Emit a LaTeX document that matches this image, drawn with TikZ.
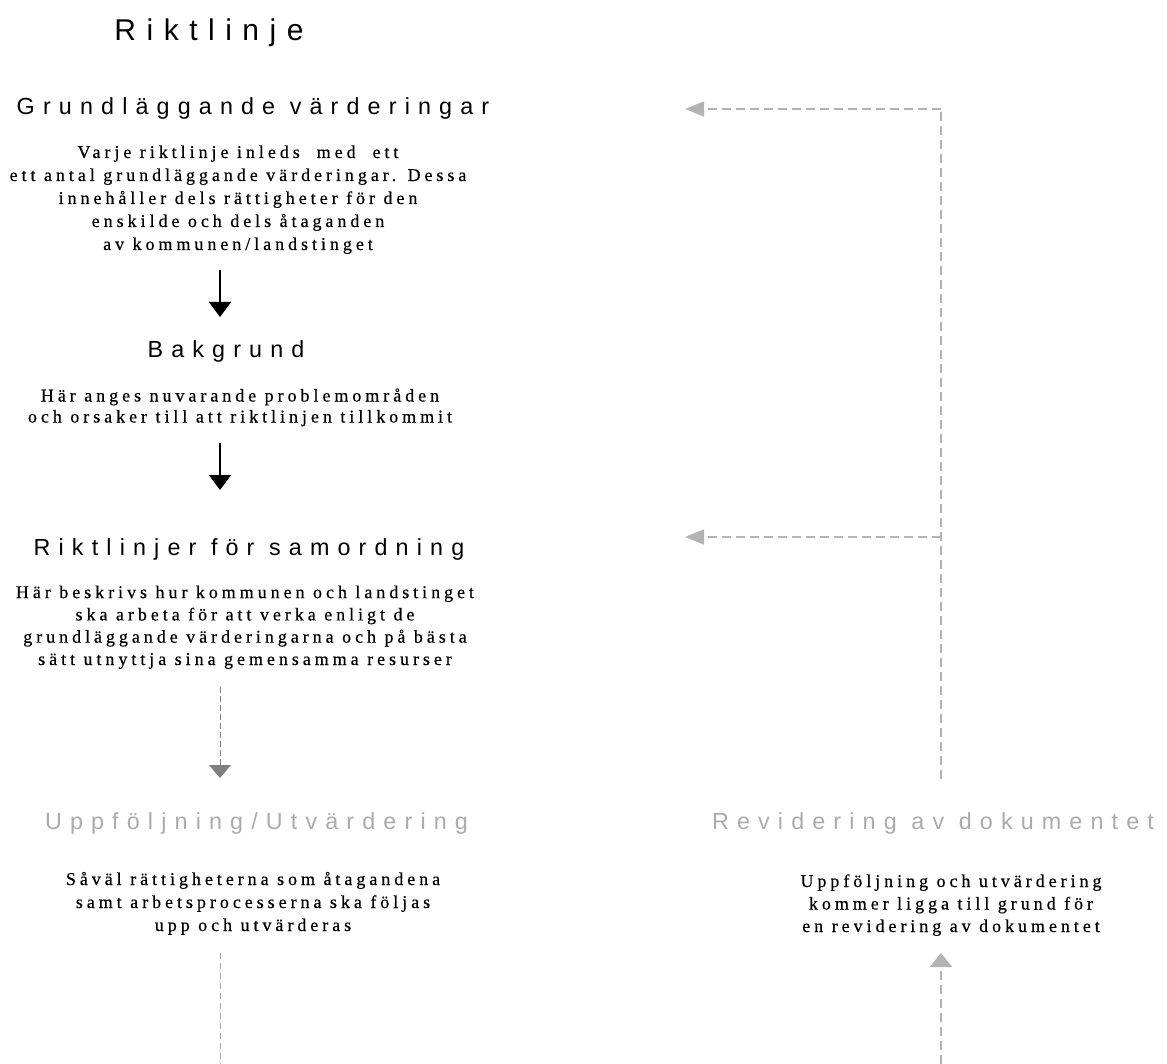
\documentclass[tikz,border=0pt]{standalone}
\usepackage{fontspec}
\usetikzlibrary{arrows.meta}
\newfontfamily\headfont[LetterSpace=35]{Liberation Sans}
\newfontfamily\bodyfont[LetterSpace=22,FakeBold=0.5]{Liberation Serif}
\definecolor{lgray}{HTML}{B3B3B3}
\definecolor{mgray}{HTML}{7F7F7F}
\definecolor{dgray}{HTML}{A6A6A6}
\definecolor{htgray}{HTML}{ABABAB}
\begin{document}
\begin{tikzpicture}[x=1pt,y=-1pt,
  head/.style={inner sep=0pt, anchor=base, font=\headfont\fontsize{23.3}{28}\selectfont},
  title/.style={inner sep=0pt, anchor=base, font=\headfont\fontsize{30}{36}\selectfont},
  grayhead/.style={head, text=htgray},
  body/.style={inner sep=0pt, anchor=base, align=center, font=\bodyfont\fontsize{18}{23}\selectfont},
  blkarrow/.style={draw=black, line width=1.2pt, -{Triangle[width=22pt,length=15pt]}},
  leftdash/.style={draw=mgray, line width=1pt, dash pattern=on 6pt off 3pt, -{Triangle[width=22pt,length=13pt]}},
  botdash/.style={draw=dgray, line width=1pt, dash pattern=on 6pt off 4pt},
  rdash/.style={draw=lgray, line width=1.5pt, dash pattern=on 9pt off 5pt},
  rtip/.style={-{Triangle[width=15pt,length=19pt]}},
  uptip/.style={-{Triangle[width=22pt,length=14pt]}}
]
\path[use as bounding box] (0,0) rectangle (1167,1064);

% titles and headings (base anchor = baseline of the last line)
\node[title] (title) at (209,41) {Riktlinje};
\node[head] (h1) at (253,115) {Grundläggande värderingar};
\node[body] (b1) at (238,250) {Varje riktlinje inleds~ med~ ett\\ett antal grundläggande värderingar. Dessa\\innehåller dels rättigheter för den\\enskilde och dels åtaganden\\av kommunen/landstinget};
\node[head] (h2) at (226,358) {Bakgrund};
\node[body, font=\bodyfont\fontsize{18}{21}\selectfont] (b2) at (240,422.5) {Här anges nuvarande problemområden\\och orsaker till att riktlinjen tillkommit};
\node[head] (h3) at (249,555) {Riktlinjer för samordning};
\node[body, font=\bodyfont\fontsize{18}{22.3}\selectfont] (b3) at (245,665) {Här beskrivs hur kommunen och landstinget\\ska arbeta för att verka enligt de\\grundläggande värderingarna och på bästa\\sätt utnyttja sina gemensamma resurser};
\node[grayhead] (h4) at (256.5,829) {Uppföljning/Utvärdering};
\node[body] (b4) at (253,931) {Såväl rättigheterna som åtagandena\\samt arbetsprocesserna ska följas\\upp och utvärderas};
\node[grayhead] (h5) at (933,829) {Revidering av dokumentet};
\node[body, font=\bodyfont\fontsize{18}{22.5}\selectfont] (b5) at (951,932) {Uppföljning och utvärdering\\kommer ligga till grund för\\en revidering av dokumentet};

% connector end points
\coordinate (a1s) at (220,270);
\coordinate (a1e) at (220,317);
\coordinate (a2s) at (220,443);
\coordinate (a2e) at (220,490);
\coordinate (a3s) at (220,687);
\coordinate (a3e) at (220,778);
\coordinate (a4s) at (220,953);
\coordinate (a4e) at (220,1064);
\coordinate (rlow) at (941,779);
\coordinate (rtop) at (941,109);
\coordinate (rmid) at (941,537);
\coordinate (tipA) at (685,109);
\coordinate (tipB) at (685,537);
\coordinate (ubot) at (941,1064);
\coordinate (utip) at (941,953);

\draw[blkarrow] (a1s) -- (a1e);
\draw[blkarrow] (a2s) -- (a2e);
\draw[leftdash] (a3s) -- (a3e);
\draw[botdash] (a4s) -- (a4e);
\draw[rdash] (rlow) -- (rtop);
\draw[rdash,rtip] (rtop) -- (tipA);
\draw[rdash,rtip] (rmid) -- (tipB);
\draw[rdash,uptip] (ubot) -- (utip);
\end{tikzpicture}
\end{document}
